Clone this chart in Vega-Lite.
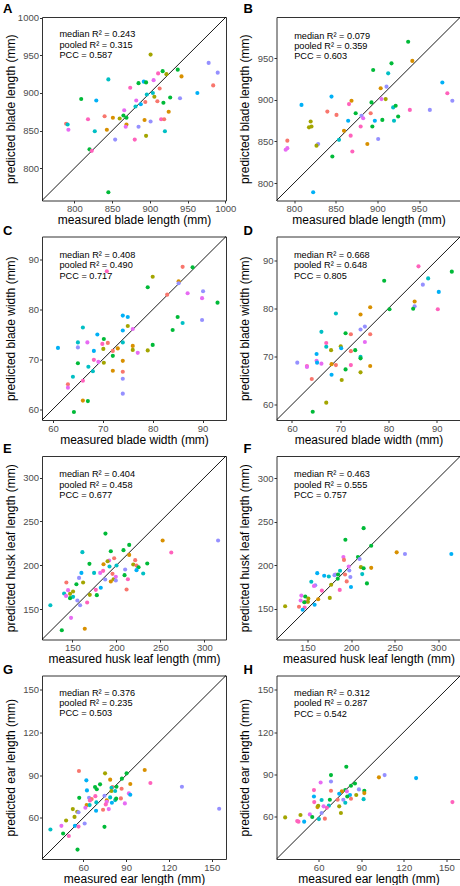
{
"$schema": "https://vega.github.io/schema/vega-lite/v6.json",
"padding": {"left": 2, "top": 2, "right": 0, "bottom": 0},
"bounds": "flush",
"columns": 2,
"spacing": {"row": 35.5, "column": 50.5},
"config": {
"font": "Liberation Sans",
"view": {"stroke": "#333333", "strokeWidth": 1},
"axis": {"grid": false, "domain": false, "tickSize": 2.5, "tickColor": "#333333", "labelFontSize": 9.5, "labelColor": "#4D4D4D", "titleFontSize": 12, "titleFontWeight": "normal", "titleColor": "#000000", "labelOverlap": false, "labelFlush": false},
"axisX": {"labelPadding": 0.5, "titlePadding": 1.6},
"axisY": {"labelPadding": 1, "titlePadding": 3, "minExtent": 22, "maxExtent": 22},
"title": {"anchor": "start", "frame": "group", "fontSize": 13, "fontWeight": "bold", "baseline": "alphabetic", "color": "#000000"}
},
"datasets": {
"notes": [
{"panel": "A", "label": "median R² = 0.243\npooled R² = 0.315\nPCC = 0.587"},
{"panel": "B", "label": "median R² = 0.079\npooled R² = 0.359\nPCC = 0.603"},
{"panel": "C", "label": "median R² = 0.408\npooled R² = 0.490\nPCC = 0.717"},
{"panel": "D", "label": "median R² = 0.668\npooled R² = 0.648\nPCC = 0.805"},
{"panel": "E", "label": "median R² = 0.404\npooled R² = 0.458\nPCC = 0.677"},
{"panel": "F", "label": "median R² = 0.463\npooled R² = 0.555\nPCC = 0.757"},
{"panel": "G", "label": "median R² = 0.376\npooled R² = 0.235\nPCC = 0.503"},
{"panel": "H", "label": "median R² = 0.312\npooled R² = 0.287\nPCC = 0.542"}
],
"points": [
{"panel":"A","measured":901,"predicted":951,"group":"y"},
{"panel":"A","measured":978,"predicted":940,"group":"v"},
{"panel":"A","measured":990,"predicted":927,"group":"v"},
{"panel":"A","measured":937,"predicted":931,"group":"g"},
{"panel":"A","measured":917,"predicted":929,"group":"g"},
{"panel":"A","measured":922,"predicted":925,"group":"y"},
{"panel":"A","measured":911,"predicted":926,"group":"p"},
{"panel":"A","measured":942,"predicted":922,"group":"o"},
{"panel":"A","measured":845,"predicted":918,"group":"c"},
{"panel":"A","measured":905,"predicted":917,"group":"m"},
{"panel":"A","measured":885,"predicted":913,"group":"g"},
{"panel":"A","measured":892,"predicted":915,"group":"b"},
{"panel":"A","measured":895,"predicted":914,"group":"g"},
{"panel":"A","measured":984,"predicted":910,"group":"r"},
{"panel":"A","measured":874,"predicted":907,"group":"p"},
{"panel":"A","measured":963,"predicted":900,"group":"b"},
{"panel":"A","measured":829,"predicted":890,"group":"b"},
{"panel":"A","measured":809,"predicted":892,"group":"g"},
{"panel":"A","measured":913,"predicted":906,"group":"r"},
{"panel":"A","measured":896,"predicted":898,"group":"c"},
{"panel":"A","measured":904,"predicted":900,"group":"c"},
{"panel":"A","measured":906,"predicted":895,"group":"y"},
{"panel":"A","measured":927,"predicted":894,"group":"g"},
{"panel":"A","measured":940,"predicted":893,"group":"v"},
{"panel":"A","measured":910,"predicted":889,"group":"r"},
{"panel":"A","measured":894,"predicted":888,"group":"r"},
{"panel":"A","measured":882,"predicted":890,"group":"m"},
{"panel":"A","measured":918,"predicted":887,"group":"g"},
{"panel":"A","measured":888,"predicted":885,"group":"b"},
{"panel":"A","measured":881,"predicted":882,"group":"c"},
{"panel":"A","measured":866,"predicted":877,"group":"m"},
{"panel":"A","measured":840,"predicted":869,"group":"r"},
{"panel":"A","measured":851,"predicted":867,"group":"o"},
{"panel":"A","measured":925,"predicted":875,"group":"o"},
{"panel":"A","measured":865,"predicted":870,"group":"g"},
{"panel":"A","measured":860,"predicted":866,"group":"y"},
{"panel":"A","measured":869,"predicted":867,"group":"g"},
{"panel":"A","measured":818,"predicted":865,"group":"p"},
{"panel":"A","measured":789,"predicted":859,"group":"r"},
{"panel":"A","measured":869,"predicted":858,"group":"o"},
{"panel":"A","measured":868,"predicted":855,"group":"m"},
{"panel":"A","measured":893,"predicted":864,"group":"o"},
{"panel":"A","measured":915,"predicted":865,"group":"p"},
{"panel":"A","measured":919,"predicted":865,"group":"r"},
{"panel":"A","measured":901,"predicted":862,"group":"v"},
{"panel":"A","measured":885,"predicted":855,"group":"v"},
{"panel":"A","measured":791,"predicted":858,"group":"c"},
{"panel":"A","measured":792,"predicted":851,"group":"m"},
{"panel":"A","measured":843,"predicted":851,"group":"o"},
{"panel":"A","measured":827,"predicted":849,"group":"c"},
{"panel":"A","measured":895,"predicted":843,"group":"y"},
{"panel":"A","measured":920,"predicted":849,"group":"c"},
{"panel":"A","measured":854,"predicted":838,"group":"v"},
{"panel":"A","measured":880,"predicted":838,"group":"p"},
{"panel":"A","measured":820,"predicted":825,"group":"g"},
{"panel":"A","measured":823,"predicted":823,"group":"p"},
{"panel":"A","measured":845,"predicted":768,"group":"g"},
{"panel":"B","measured":937,"predicted":970,"group":"g"},
{"panel":"B","measured":942,"predicted":947,"group":"o"},
{"panel":"B","measured":917,"predicted":944,"group":"g"},
{"panel":"B","measured":895,"predicted":936,"group":"g"},
{"panel":"B","measured":913,"predicted":932,"group":"c"},
{"panel":"B","measured":978,"predicted":921,"group":"b"},
{"panel":"B","measured":984,"predicted":908,"group":"p"},
{"panel":"B","measured":990,"predicted":899,"group":"v"},
{"panel":"B","measured":911,"predicted":916,"group":"v"},
{"panel":"B","measured":904,"predicted":914,"group":"o"},
{"panel":"B","measured":845,"predicted":904,"group":"b"},
{"panel":"B","measured":809,"predicted":894,"group":"b"},
{"panel":"B","measured":869,"predicted":899,"group":"o"},
{"panel":"B","measured":905,"predicted":901,"group":"m"},
{"panel":"B","measured":910,"predicted":901,"group":"y"},
{"panel":"B","measured":893,"predicted":897,"group":"g"},
{"panel":"B","measured":919,"predicted":891,"group":"c"},
{"panel":"B","measured":922,"predicted":893,"group":"g"},
{"panel":"B","measured":840,"predicted":886,"group":"r"},
{"panel":"B","measured":851,"predicted":882,"group":"r"},
{"panel":"B","measured":866,"predicted":895,"group":"p"},
{"panel":"B","measured":874,"predicted":884,"group":"g"},
{"panel":"B","measured":892,"predicted":884,"group":"r"},
{"panel":"B","measured":939,"predicted":888,"group":"p"},
{"panel":"B","measured":963,"predicted":888,"group":"v"},
{"panel":"B","measured":925,"predicted":880,"group":"g"},
{"panel":"B","measured":920,"predicted":875,"group":"c"},
{"panel":"B","measured":897,"predicted":875,"group":"b"},
{"panel":"B","measured":865,"predicted":875,"group":"b"},
{"panel":"B","measured":881,"predicted":881,"group":"v"},
{"panel":"B","measured":883,"predicted":878,"group":"m"},
{"panel":"B","measured":906,"predicted":876,"group":"g"},
{"panel":"B","measured":820,"predicted":874,"group":"y"},
{"panel":"B","measured":821,"predicted":868,"group":"y"},
{"panel":"B","measured":818,"predicted":867,"group":"y"},
{"panel":"B","measured":860,"predicted":863,"group":"o"},
{"panel":"B","measured":880,"predicted":868,"group":"p"},
{"panel":"B","measured":894,"predicted":868,"group":"g"},
{"panel":"B","measured":868,"predicted":857,"group":"p"},
{"panel":"B","measured":854,"predicted":852,"group":"c"},
{"panel":"B","measured":792,"predicted":851,"group":"r"},
{"panel":"B","measured":792,"predicted":842,"group":"m"},
{"panel":"B","measured":790,"predicted":840,"group":"m"},
{"panel":"B","measured":829,"predicted":847,"group":"v"},
{"panel":"B","measured":827,"predicted":845,"group":"y"},
{"panel":"B","measured":888,"predicted":847,"group":"o"},
{"panel":"B","measured":901,"predicted":853,"group":"v"},
{"panel":"B","measured":870,"predicted":838,"group":"p"},
{"panel":"B","measured":846,"predicted":832,"group":"g"},
{"panel":"B","measured":823,"predicted":789,"group":"b"},
{"panel":"C","measured":86.0,"predicted":88.6,"group":"r"},
{"panel":"C","measured":88.0,"predicted":88.5,"group":"g"},
{"panel":"C","measured":70.8,"predicted":87.7,"group":"p"},
{"panel":"C","measured":80.0,"predicted":86.6,"group":"y"},
{"panel":"C","measured":79.0,"predicted":84.5,"group":"g"},
{"panel":"C","measured":85.2,"predicted":85.7,"group":"o"},
{"panel":"C","measured":85.2,"predicted":85.3,"group":"v"},
{"panel":"C","measured":82.9,"predicted":83.0,"group":"r"},
{"panel":"C","measured":87.0,"predicted":83.3,"group":"m"},
{"panel":"C","measured":90.1,"predicted":83.7,"group":"v"},
{"panel":"C","measured":89.9,"predicted":82.3,"group":"m"},
{"panel":"C","measured":93.0,"predicted":81.4,"group":"g"},
{"panel":"C","measured":89.9,"predicted":77.9,"group":"v"},
{"panel":"C","measured":85.0,"predicted":78.5,"group":"g"},
{"panel":"C","measured":86.0,"predicted":77.3,"group":"c"},
{"panel":"C","measured":84.0,"predicted":75.9,"group":"g"},
{"panel":"C","measured":74.0,"predicted":78.8,"group":"b"},
{"panel":"C","measured":75.0,"predicted":78.5,"group":"b"},
{"panel":"C","measured":74.0,"predicted":75.8,"group":"b"},
{"panel":"C","measured":75.0,"predicted":76.7,"group":"y"},
{"panel":"C","measured":76.0,"predicted":76.1,"group":"m"},
{"panel":"C","measured":66.0,"predicted":76.4,"group":"c"},
{"panel":"C","measured":68.9,"predicted":75.0,"group":"b"},
{"panel":"C","measured":70.2,"predicted":74.1,"group":"g"},
{"panel":"C","measured":65.0,"predicted":73.4,"group":"c"},
{"panel":"C","measured":66.9,"predicted":73.4,"group":"m"},
{"panel":"C","measured":69.9,"predicted":73.1,"group":"p"},
{"panel":"C","measured":71.0,"predicted":73.3,"group":"r"},
{"panel":"C","measured":74.0,"predicted":73.4,"group":"c"},
{"panel":"C","measured":61.0,"predicted":72.3,"group":"b"},
{"panel":"C","measured":65.0,"predicted":72.4,"group":"v"},
{"panel":"C","measured":70.1,"predicted":72.1,"group":"y"},
{"panel":"C","measured":73.0,"predicted":72.2,"group":"o"},
{"panel":"C","measured":76.0,"predicted":72.7,"group":"o"},
{"panel":"C","measured":76.0,"predicted":71.9,"group":"y"},
{"panel":"C","measured":79.0,"predicted":71.8,"group":"y"},
{"panel":"C","measured":80.0,"predicted":72.9,"group":"g"},
{"panel":"C","measured":77.0,"predicted":71.3,"group":"m"},
{"panel":"C","measured":72.0,"predicted":71.7,"group":"r"},
{"panel":"C","measured":72.0,"predicted":70.7,"group":"g"},
{"panel":"C","measured":68.2,"predicted":71.7,"group":"b"},
{"panel":"C","measured":68.2,"predicted":69.9,"group":"p"},
{"panel":"C","measured":69.1,"predicted":69.5,"group":"m"},
{"panel":"C","measured":70.2,"predicted":69.3,"group":"y"},
{"panel":"C","measured":74.0,"predicted":69.7,"group":"o"},
{"panel":"C","measured":65.0,"predicted":69.2,"group":"g"},
{"panel":"C","measured":67.1,"predicted":68.5,"group":"c"},
{"panel":"C","measured":68.0,"predicted":67.6,"group":"c"},
{"panel":"C","measured":72.0,"predicted":67.7,"group":"o"},
{"panel":"C","measured":74.0,"predicted":67.5,"group":"r"},
{"panel":"C","measured":64.0,"predicted":66.5,"group":"c"},
{"panel":"C","measured":74.0,"predicted":66.1,"group":"v"},
{"panel":"C","measured":66.0,"predicted":65.7,"group":"p"},
{"panel":"C","measured":63.0,"predicted":65.0,"group":"r"},
{"panel":"C","measured":63.0,"predicted":64.3,"group":"m"},
{"panel":"C","measured":74.0,"predicted":63.1,"group":"v"},
{"panel":"C","measured":66.0,"predicted":61.7,"group":"o"},
{"panel":"C","measured":67.0,"predicted":61.6,"group":"g"},
{"panel":"C","measured":64.2,"predicted":59.4,"group":"g"},
{"panel":"D","measured":86.2,"predicted":88.7,"group":"p"},
{"panel":"D","measured":93.1,"predicted":87.6,"group":"g"},
{"panel":"D","measured":88.2,"predicted":86.2,"group":"c"},
{"panel":"D","measured":87.1,"predicted":84.9,"group":"v"},
{"panel":"D","measured":79.1,"predicted":85.7,"group":"g"},
{"panel":"D","measured":90.4,"predicted":83.4,"group":"b"},
{"panel":"D","measured":85.4,"predicted":81.4,"group":"o"},
{"panel":"D","measured":85.4,"predicted":80.4,"group":"v"},
{"panel":"D","measured":85.1,"predicted":79.9,"group":"g"},
{"panel":"D","measured":80.2,"predicted":79.8,"group":"g"},
{"panel":"D","measured":90.2,"predicted":79.8,"group":"p"},
{"panel":"D","measured":76.2,"predicted":80.2,"group":"o"},
{"panel":"D","measured":69.1,"predicted":78.9,"group":"c"},
{"panel":"D","measured":74.2,"predicted":78.7,"group":"o"},
{"panel":"D","measured":66.1,"predicted":75.1,"group":"c"},
{"panel":"D","measured":74.2,"predicted":75.6,"group":"v"},
{"panel":"D","measured":75.1,"predicted":76.2,"group":"v"},
{"panel":"D","measured":71.1,"predicted":74.8,"group":"g"},
{"panel":"D","measured":72.2,"predicted":74.6,"group":"r"},
{"panel":"D","measured":76.2,"predicted":74.6,"group":"r"},
{"panel":"D","measured":67.1,"predicted":72.8,"group":"p"},
{"panel":"D","measured":67.1,"predicted":72.0,"group":"c"},
{"panel":"D","measured":70.1,"predicted":72.1,"group":"y"},
{"panel":"D","measured":70.2,"predicted":71.7,"group":"b"},
{"panel":"D","measured":75.1,"predicted":73.0,"group":"m"},
{"panel":"D","measured":73.1,"predicted":71.3,"group":"g"},
{"panel":"D","measured":72.2,"predicted":71.1,"group":"r"},
{"panel":"D","measured":68.1,"predicted":71.3,"group":"y"},
{"panel":"D","measured":65.1,"predicted":70.5,"group":"b"},
{"panel":"D","measured":74.2,"predicted":69.9,"group":"c"},
{"panel":"D","measured":74.2,"predicted":69.6,"group":"g"},
{"panel":"D","measured":61.1,"predicted":68.7,"group":"v"},
{"panel":"D","measured":65.1,"predicted":69.1,"group":"m"},
{"panel":"D","measured":65.2,"predicted":68.7,"group":"b"},
{"panel":"D","measured":63.1,"predicted":68.0,"group":"p"},
{"panel":"D","measured":63.1,"predicted":67.8,"group":"m"},
{"panel":"D","measured":66.1,"predicted":68.5,"group":"m"},
{"panel":"D","measured":68.2,"predicted":68.4,"group":"o"},
{"panel":"D","measured":69.1,"predicted":68.2,"group":"r"},
{"panel":"D","measured":72.2,"predicted":68.2,"group":"p"},
{"panel":"D","measured":76.2,"predicted":68.0,"group":"o"},
{"panel":"D","measured":68.2,"predicted":66.2,"group":"b"},
{"panel":"D","measured":71.1,"predicted":67.3,"group":"g"},
{"panel":"D","measured":74.2,"predicted":66.7,"group":"y"},
{"panel":"D","measured":64.1,"predicted":65.3,"group":"r"},
{"panel":"D","measured":70.3,"predicted":65.1,"group":"y"},
{"panel":"D","measured":67.1,"predicted":60.4,"group":"y"},
{"panel":"D","measured":64.3,"predicted":58.5,"group":"g"},
{"panel":"E","measured":187.6,"predicted":236.2,"group":"g"},
{"panel":"E","measured":252.6,"predicted":228.3,"group":"o"},
{"panel":"E","measured":315.6,"predicted":228.3,"group":"v"},
{"panel":"E","measured":214.6,"predicted":223.3,"group":"g"},
{"panel":"E","measured":161.4,"predicted":215.0,"group":"c"},
{"panel":"E","measured":262.4,"predicted":214.6,"group":"p"},
{"panel":"E","measured":208.1,"predicted":217.3,"group":"g"},
{"panel":"E","measured":193.7,"predicted":216.1,"group":"g"},
{"panel":"E","measured":214.6,"predicted":211.9,"group":"o"},
{"panel":"E","measured":197.5,"predicted":208.1,"group":"r"},
{"panel":"E","measured":191.8,"predicted":205.5,"group":"m"},
{"panel":"E","measured":190.0,"predicted":204.7,"group":"y"},
{"panel":"E","measured":221.4,"predicted":205.9,"group":"r"},
{"panel":"E","measured":169.4,"predicted":201.7,"group":"g"},
{"panel":"E","measured":235.1,"predicted":202.1,"group":"g"},
{"panel":"E","measured":185.4,"predicted":201.3,"group":"o"},
{"panel":"E","measured":219.2,"predicted":200.9,"group":"y"},
{"panel":"E","measured":200.2,"predicted":199.8,"group":"c"},
{"panel":"E","measured":222.9,"predicted":199.8,"group":"r"},
{"panel":"E","measured":225.2,"predicted":197.9,"group":"g"},
{"panel":"E","measured":192.2,"predicted":198.7,"group":"c"},
{"panel":"E","measured":160.3,"predicted":191.4,"group":"b"},
{"panel":"E","measured":174.7,"predicted":191.4,"group":"c"},
{"panel":"E","measured":210.0,"predicted":195.2,"group":"v"},
{"panel":"E","measured":181.6,"predicted":191.4,"group":"m"},
{"panel":"E","measured":222.9,"predicted":194.5,"group":"b"},
{"panel":"E","measured":230.5,"predicted":190.7,"group":"c"},
{"panel":"E","measured":157.6,"predicted":185.7,"group":"v"},
{"panel":"E","measured":209.3,"predicted":188.8,"group":"g"},
{"panel":"E","measured":195.6,"predicted":190.3,"group":"r"},
{"panel":"E","measured":185.0,"predicted":193.7,"group":"p"},
{"panel":"E","measured":187.3,"predicted":183.8,"group":"v"},
{"panel":"E","measured":196.8,"predicted":184.2,"group":"y"},
{"panel":"E","measured":199.4,"predicted":186.9,"group":"m"},
{"panel":"E","measured":199.4,"predicted":182.7,"group":"v"},
{"panel":"E","measured":193.7,"predicted":181.6,"group":"o"},
{"panel":"E","measured":213.1,"predicted":184.2,"group":"p"},
{"panel":"E","measured":162.2,"predicted":180.4,"group":"y"},
{"panel":"E","measured":143.2,"predicted":180.4,"group":"r"},
{"panel":"E","measured":154.6,"predicted":178.5,"group":"g"},
{"panel":"E","measured":182.3,"predicted":174.4,"group":"b"},
{"panel":"E","measured":176.6,"predicted":172.1,"group":"p"},
{"panel":"E","measured":211.6,"predicted":172.5,"group":"r"},
{"panel":"E","measured":145.1,"predicted":171.7,"group":"m"},
{"panel":"E","measured":150.8,"predicted":170.2,"group":"y"},
{"panel":"E","measured":169.8,"predicted":166.4,"group":"y"},
{"panel":"E","measured":177.8,"predicted":166.0,"group":"g"},
{"panel":"E","measured":140.6,"predicted":167.9,"group":"c"},
{"panel":"E","measured":147.4,"predicted":167.5,"group":"y"},
{"panel":"E","measured":142.8,"predicted":165.2,"group":"m"},
{"panel":"E","measured":150.8,"predicted":164.1,"group":"c"},
{"panel":"E","measured":147.4,"predicted":162.6,"group":"g"},
{"panel":"E","measured":155.7,"predicted":159.9,"group":"v"},
{"panel":"E","measured":166.8,"predicted":157.6,"group":"p"},
{"panel":"E","measured":158.8,"predicted":154.6,"group":"v"},
{"panel":"E","measured":125.0,"predicted":154.6,"group":"c"},
{"panel":"E","measured":148.5,"predicted":140.2,"group":"m"},
{"panel":"E","measured":164.1,"predicted":127.7,"group":"o"},
{"panel":"E","measured":138.0,"predicted":126.1,"group":"g"},
{"panel":"F","measured":214.4,"predicted":242.5,"group":"g"},
{"panel":"F","measured":193.5,"predicted":229.2,"group":"g"},
{"panel":"F","measured":223.1,"predicted":222.3,"group":"g"},
{"panel":"F","measured":252.3,"predicted":214.7,"group":"o"},
{"panel":"F","measured":261.8,"predicted":212.8,"group":"v"},
{"panel":"F","measured":315.0,"predicted":212.8,"group":"b"},
{"panel":"F","measured":207.9,"predicted":209.4,"group":"g"},
{"panel":"F","measured":191.2,"predicted":209.4,"group":"m"},
{"panel":"F","measured":191.9,"predicted":206.0,"group":"r"},
{"panel":"F","measured":209.8,"predicted":207.1,"group":"v"},
{"panel":"F","measured":197.3,"predicted":198.4,"group":"m"},
{"panel":"F","measured":198.0,"predicted":193.9,"group":"v"},
{"panel":"F","measured":211.3,"predicted":197.7,"group":"y"},
{"panel":"F","measured":214.4,"predicted":196.5,"group":"g"},
{"panel":"F","measured":223.1,"predicted":196.9,"group":"o"},
{"panel":"F","measured":187.4,"predicted":193.5,"group":"c"},
{"panel":"F","measured":161.2,"predicted":190.8,"group":"b"},
{"panel":"F","measured":169.2,"predicted":187.8,"group":"b"},
{"panel":"F","measured":174.5,"predicted":187.0,"group":"c"},
{"panel":"F","measured":182.1,"predicted":189.3,"group":"m"},
{"panel":"F","measured":181.0,"predicted":188.5,"group":"v"},
{"panel":"F","measured":185.1,"predicted":189.3,"group":"g"},
{"panel":"F","measured":193.1,"predicted":189.3,"group":"r"},
{"panel":"F","measured":212.8,"predicted":189.7,"group":"c"},
{"panel":"F","measured":199.2,"predicted":186.3,"group":"v"},
{"panel":"F","measured":184.7,"predicted":184.4,"group":"g"},
{"panel":"F","measured":154.4,"predicted":180.9,"group":"c"},
{"panel":"F","measured":195.0,"predicted":181.3,"group":"r"},
{"panel":"F","measured":177.2,"predicted":177.5,"group":"y"},
{"panel":"F","measured":199.9,"predicted":174.9,"group":"b"},
{"panel":"F","measured":218.2,"predicted":179.0,"group":"g"},
{"panel":"F","measured":158.9,"predicted":176.8,"group":"v"},
{"panel":"F","measured":157.4,"predicted":176.0,"group":"m"},
{"panel":"F","measured":166.5,"predicted":170.7,"group":"p"},
{"panel":"F","measured":187.0,"predicted":171.5,"group":"p"},
{"panel":"F","measured":143.0,"predicted":165.0,"group":"m"},
{"panel":"F","measured":147.5,"predicted":163.9,"group":"g"},
{"panel":"F","measured":175.6,"predicted":162.3,"group":"y"},
{"panel":"F","measured":151.0,"predicted":161.6,"group":"y"},
{"panel":"F","measured":162.3,"predicted":160.8,"group":"o"},
{"panel":"F","measured":142.2,"predicted":159.3,"group":"m"},
{"panel":"F","measured":147.9,"predicted":157.8,"group":"p"},
{"panel":"F","measured":150.6,"predicted":157.8,"group":"y"},
{"panel":"F","measured":146.4,"predicted":157.4,"group":"g"},
{"panel":"F","measured":158.2,"predicted":154.4,"group":"b"},
{"panel":"F","measured":140.3,"predicted":152.1,"group":"r"},
{"panel":"F","measured":146.8,"predicted":151.3,"group":"p"},
{"panel":"F","measured":124.4,"predicted":152.8,"group":"y"},
{"panel":"F","measured":144.5,"predicted":148.7,"group":"b"},
{"panel":"G","measured":103.0,"predicted":93.6,"group":"o"},
{"panel":"G","measured":75.2,"predicted":91.2,"group":"y"},
{"panel":"G","measured":90.3,"predicted":91.2,"group":"g"},
{"panel":"G","measured":56.9,"predicted":92.9,"group":"r"},
{"panel":"G","measured":107.0,"predicted":84.4,"group":"p"},
{"panel":"G","measured":78.8,"predicted":86.8,"group":"o"},
{"panel":"G","measured":87.0,"predicted":87.5,"group":"g"},
{"panel":"G","measured":62.1,"predicted":86.3,"group":"b"},
{"panel":"G","measured":92.9,"predicted":83.7,"group":"o"},
{"panel":"G","measured":71.7,"predicted":83.5,"group":"g"},
{"panel":"G","measured":129.1,"predicted":81.8,"group":"v"},
{"panel":"G","measured":80.4,"predicted":81.6,"group":"r"},
{"panel":"G","measured":86.8,"predicted":80.4,"group":"r"},
{"panel":"G","measured":68.2,"predicted":81.6,"group":"g"},
{"panel":"G","measured":79.7,"predicted":81.1,"group":"c"},
{"panel":"G","measured":83.2,"predicted":81.8,"group":"g"},
{"panel":"G","measured":79.7,"predicted":78.8,"group":"y"},
{"panel":"G","measured":69.4,"predicted":80.0,"group":"g"},
{"panel":"G","measured":82.3,"predicted":78.8,"group":"c"},
{"panel":"G","measured":62.5,"predicted":79.2,"group":"b"},
{"panel":"G","measured":91.9,"predicted":77.1,"group":"m"},
{"panel":"G","measured":92.9,"predicted":76.2,"group":"b"},
{"panel":"G","measured":68.4,"predicted":75.2,"group":"p"},
{"panel":"G","measured":78.8,"predicted":74.3,"group":"c"},
{"panel":"G","measured":86.3,"predicted":73.6,"group":"r"},
{"panel":"G","measured":57.1,"predicted":74.0,"group":"g"},
{"panel":"G","measured":64.0,"predicted":74.0,"group":"v"},
{"panel":"G","measured":65.8,"predicted":73.1,"group":"r"},
{"panel":"G","measured":64.6,"predicted":72.2,"group":"p"},
{"panel":"G","measured":82.3,"predicted":72.4,"group":"c"},
{"panel":"G","measured":83.0,"predicted":73.4,"group":"g"},
{"panel":"G","measured":76.4,"predicted":72.2,"group":"o"},
{"panel":"G","measured":76.4,"predicted":71.2,"group":"m"},
{"panel":"G","measured":80.0,"predicted":70.5,"group":"b"},
{"panel":"G","measured":89.1,"predicted":70.1,"group":"m"},
{"panel":"G","measured":75.7,"predicted":69.4,"group":"p"},
{"panel":"G","measured":74.8,"predicted":75.5,"group":"v"},
{"panel":"G","measured":69.1,"predicted":70.8,"group":"c"},
{"panel":"G","measured":62.3,"predicted":68.9,"group":"o"},
{"panel":"G","measured":68.9,"predicted":64.9,"group":"b"},
{"panel":"G","measured":73.8,"predicted":65.6,"group":"r"},
{"panel":"G","measured":77.8,"predicted":66.1,"group":"m"},
{"panel":"G","measured":64.4,"predicted":68.9,"group":"c"},
{"panel":"G","measured":61.4,"predicted":67.0,"group":"m"},
{"panel":"G","measured":52.6,"predicted":66.1,"group":"y"},
{"panel":"G","measured":55.7,"predicted":64.2,"group":"y"},
{"panel":"G","measured":56.6,"predicted":63.9,"group":"v"},
{"panel":"G","measured":53.8,"predicted":60.6,"group":"y"},
{"panel":"G","measured":60.9,"predicted":56.0,"group":"v"},
{"panel":"G","measured":47.9,"predicted":58.1,"group":"y"},
{"panel":"G","measured":44.6,"predicted":54.3,"group":"m"},
{"panel":"G","measured":54.1,"predicted":54.3,"group":"b"},
{"panel":"G","measured":56.6,"predicted":53.8,"group":"p"},
{"panel":"G","measured":74.8,"predicted":53.6,"group":"g"},
{"panel":"G","measured":36.9,"predicted":51.7,"group":"c"},
{"panel":"G","measured":45.8,"predicted":48.9,"group":"g"},
{"panel":"G","measured":49.8,"predicted":47.2,"group":"p"},
{"panel":"G","measured":55.9,"predicted":37.6,"group":"g"},
{"panel":"G","measured":155.2,"predicted":66.3,"group":"v"},
{"panel":"H","measured":79.5,"predicted":95.5,"group":"g"},
{"panel":"H","measured":106.5,"predicted":89.6,"group":"v"},
{"panel":"H","measured":102.5,"predicted":88.0,"group":"o"},
{"panel":"H","measured":128.7,"predicted":87.5,"group":"b"},
{"panel":"H","measured":68.7,"predicted":89.6,"group":"g"},
{"panel":"H","measured":61.4,"predicted":84.4,"group":"m"},
{"panel":"H","measured":68.7,"predicted":85.1,"group":"v"},
{"panel":"H","measured":85.6,"predicted":83.7,"group":"g"},
{"panel":"H","measured":82.8,"predicted":82.1,"group":"g"},
{"panel":"H","measured":56.7,"predicted":79.0,"group":"p"},
{"panel":"H","measured":68.7,"predicted":78.5,"group":"r"},
{"panel":"H","measured":78.8,"predicted":79.0,"group":"g"},
{"panel":"H","measured":76.4,"predicted":78.1,"group":"o"},
{"panel":"H","measured":88.4,"predicted":79.5,"group":"v"},
{"panel":"H","measured":79.9,"predicted":78.1,"group":"m"},
{"panel":"H","measured":92.2,"predicted":78.5,"group":"g"},
{"panel":"H","measured":92.2,"predicted":76.9,"group":"o"},
{"panel":"H","measured":86.5,"predicted":75.5,"group":"y"},
{"panel":"H","measured":74.5,"predicted":76.4,"group":"b"},
{"panel":"H","measured":82.1,"predicted":75.5,"group":"b"},
{"panel":"H","measured":80.2,"predicted":74.5,"group":"g"},
{"panel":"H","measured":82.8,"predicted":72.9,"group":"r"},
{"panel":"H","measured":77.4,"predicted":72.2,"group":"v"},
{"panel":"H","measured":78.8,"predicted":70.1,"group":"c"},
{"panel":"H","measured":73.4,"predicted":72.2,"group":"r"},
{"panel":"H","measured":67.9,"predicted":72.2,"group":"g"},
{"panel":"H","measured":56.7,"predicted":74.5,"group":"b"},
{"panel":"H","measured":62.1,"predicted":72.0,"group":"c"},
{"panel":"H","measured":56.9,"predicted":70.5,"group":"p"},
{"panel":"H","measured":91.7,"predicted":72.6,"group":"c"},
{"panel":"H","measured":74.5,"predicted":67.5,"group":"y"},
{"panel":"H","measured":67.2,"predicted":68.0,"group":"c"},
{"panel":"H","measured":63.5,"predicted":67.5,"group":"m"},
{"panel":"H","measured":65.8,"predicted":66.5,"group":"p"},
{"panel":"H","measured":59.2,"predicted":67.0,"group":"o"},
{"panel":"H","measured":59.7,"predicted":67.9,"group":"y"},
{"panel":"H","measured":62.1,"predicted":62.8,"group":"v"},
{"panel":"H","measured":53.8,"predicted":61.8,"group":"m"},
{"panel":"H","measured":55.5,"predicted":60.0,"group":"g"},
{"panel":"H","measured":75.7,"predicted":62.8,"group":"y"},
{"panel":"H","measured":64.4,"predicted":58.8,"group":"r"},
{"panel":"H","measured":60.2,"predicted":58.5,"group":"c"},
{"panel":"H","measured":47.2,"predicted":61.4,"group":"y"},
{"panel":"H","measured":36.4,"predicted":59.7,"group":"y"},
{"panel":"H","measured":44.9,"predicted":57.1,"group":"p"},
{"panel":"H","measured":45.8,"predicted":56.7,"group":"p"},
{"panel":"H","measured":49.8,"predicted":56.7,"group":"b"},
{"panel":"H","measured":154.3,"predicted":70.5,"group":"p"}
]
},
"concat": [
{"width": 184, "height": 183.5, "title": {"text": "A", "dx": -39, "offset": -3.7},
"layer": [
{"data": {"name": "notes"}, "transform": [{"filter": "datum.panel == 'A'"}], "mark": {"type": "rule", "color": "#000000", "strokeWidth": 0.9}, "encoding": {"x": {"datum": 757}, "y": {"datum": 757}, "x2": {"datum": 1001}, "y2": {"datum": 1001}}},
{"data": {"name": "notes"}, "transform": [{"filter": "datum.panel == 'A'"}], "mark": {"type": "text", "align": "left", "baseline": "top", "lineBreak": "\n", "fontSize": 9.2, "lineHeight": 10.3, "color": "#000000"}, "encoding": {"x": {"datum": 780.1}, "y": {"datum": 983.1}, "text": {"field": "label"}}},
{"data": {"name": "points"}, "transform": [{"filter": "datum.panel == 'A'"}], "mark": {"type": "circle", "size": 17, "opacity": 1},
"encoding": {
"x": {"field": "measured", "type": "quantitative", "scale": {"domain": [757, 1001], "nice": false, "zero": false}, "axis": {"title": "measured blade length (mm)", "values": [800, 850, 900, 950, 1000], "format": "d"}},
"y": {"field": "predicted", "type": "quantitative", "scale": {"domain": [757, 1001], "nice": false, "zero": false}, "axis": {"title": "predicted blade length (mm)", "values": [800, 850, 900, 950, 1000], "format": "d"}},
"color": {"field": "group", "type": "nominal", "scale": {"domain": ["r","o","y","g","c","b","v","m","p"], "range": ["#F8766D","#D89000","#A3A500","#00BA38","#00BFC4","#00B0F6","#9590FF","#E76BF3","#FF62BC"]}, "legend": null}}}
]},
{"width": 184, "height": 183.5, "title": {"text": "B", "dx": -33, "offset": 0.8},
"layer": [
{"data": {"name": "notes"}, "transform": [{"filter": "datum.panel == 'B'"}], "mark": {"type": "rule", "color": "#000000", "strokeWidth": 0.9}, "encoding": {"x": {"datum": 779}, "y": {"datum": 779}, "x2": {"datum": 999.8}, "y2": {"datum": 999.8}}},
{"data": {"name": "notes"}, "transform": [{"filter": "datum.panel == 'B'"}], "mark": {"type": "text", "align": "left", "baseline": "top", "lineBreak": "\n", "fontSize": 9.2, "lineHeight": 10.3, "color": "#000000"}, "encoding": {"x": {"datum": 800.2}, "y": {"datum": 982.1}, "text": {"field": "label"}}},
{"data": {"name": "points"}, "transform": [{"filter": "datum.panel == 'B'"}], "mark": {"type": "circle", "size": 17, "opacity": 1},
"encoding": {
"x": {"field": "measured", "type": "quantitative", "scale": {"domain": [779, 999.8], "nice": false, "zero": false}, "axis": {"title": "measured blade length (mm)", "values": [800, 850, 900, 950], "format": "d"}},
"y": {"field": "predicted", "type": "quantitative", "scale": {"domain": [779, 999.8], "nice": false, "zero": false}, "axis": {"title": "predicted blade length (mm)", "values": [800, 850, 900, 950], "format": "d"}},
"color": {"field": "group", "type": "nominal", "scale": {"domain": ["r","o","y","g","c","b","v","m","p"], "range": ["#F8766D","#D89000","#A3A500","#00BA38","#00BFC4","#00B0F6","#9590FF","#E76BF3","#FF62BC"]}, "legend": null}}}
]},
{"width": 184, "height": 183.5, "title": {"text": "C", "dx": -39, "offset": -1.9},
"layer": [
{"data": {"name": "notes"}, "transform": [{"filter": "datum.panel == 'C'"}], "mark": {"type": "rule", "color": "#000000", "strokeWidth": 0.9}, "encoding": {"x": {"datum": 57.8}, "y": {"datum": 57.8}, "x2": {"datum": 94.7}, "y2": {"datum": 94.7}}},
{"data": {"name": "notes"}, "transform": [{"filter": "datum.panel == 'C'"}], "mark": {"type": "text", "align": "left", "baseline": "top", "lineBreak": "\n", "fontSize": 9.2, "lineHeight": 10.3, "color": "#000000"}, "encoding": {"x": {"datum": 61.3}, "y": {"datum": 91.76}, "text": {"field": "label"}}},
{"data": {"name": "points"}, "transform": [{"filter": "datum.panel == 'C'"}], "mark": {"type": "circle", "size": 17, "opacity": 1},
"encoding": {
"x": {"field": "measured", "type": "quantitative", "scale": {"domain": [57.8, 94.7], "nice": false, "zero": false}, "axis": {"title": "measured blade width (mm)", "values": [60, 70, 80, 90], "format": "d"}},
"y": {"field": "predicted", "type": "quantitative", "scale": {"domain": [57.8, 94.7], "nice": false, "zero": false}, "axis": {"title": "predicted blade width (mm)", "values": [60, 70, 80, 90], "format": "d"}},
"color": {"field": "group", "type": "nominal", "scale": {"domain": ["r","o","y","g","c","b","v","m","p"], "range": ["#F8766D","#D89000","#A3A500","#00BA38","#00BFC4","#00B0F6","#9590FF","#E76BF3","#FF62BC"]}, "legend": null}}}
]},
{"width": 184, "height": 183.5, "title": {"text": "D", "dx": -33, "offset": -1.9},
"layer": [
{"data": {"name": "notes"}, "transform": [{"filter": "datum.panel == 'D'"}], "mark": {"type": "rule", "color": "#000000", "strokeWidth": 0.9}, "encoding": {"x": {"datum": 56.8}, "y": {"datum": 56.8}, "x2": {"datum": 94.9}, "y2": {"datum": 94.9}}},
{"data": {"name": "notes"}, "transform": [{"filter": "datum.panel == 'D'"}], "mark": {"type": "text", "align": "left", "baseline": "top", "lineBreak": "\n", "fontSize": 9.2, "lineHeight": 10.3, "color": "#000000"}, "encoding": {"x": {"datum": 60.4}, "y": {"datum": 91.87}, "text": {"field": "label"}}},
{"data": {"name": "points"}, "transform": [{"filter": "datum.panel == 'D'"}], "mark": {"type": "circle", "size": 17, "opacity": 1},
"encoding": {
"x": {"field": "measured", "type": "quantitative", "scale": {"domain": [56.8, 94.9], "nice": false, "zero": false}, "axis": {"title": "measured blade width (mm)", "values": [60, 70, 80, 90], "format": "d"}},
"y": {"field": "predicted", "type": "quantitative", "scale": {"domain": [56.8, 94.9], "nice": false, "zero": false}, "axis": {"title": "predicted blade width (mm)", "values": [60, 70, 80, 90], "format": "d"}},
"color": {"field": "group", "type": "nominal", "scale": {"domain": ["r","o","y","g","c","b","v","m","p"], "range": ["#F8766D","#D89000","#A3A500","#00BA38","#00BFC4","#00B0F6","#9590FF","#E76BF3","#FF62BC"]}, "legend": null}}}
]},
{"width": 184, "height": 183.5, "title": {"text": "E", "dx": -39, "offset": -0.9},
"layer": [
{"data": {"name": "notes"}, "transform": [{"filter": "datum.panel == 'E'"}], "mark": {"type": "rule", "color": "#000000", "strokeWidth": 0.9}, "encoding": {"x": {"datum": 115.5}, "y": {"datum": 115.5}, "x2": {"datum": 324.6}, "y2": {"datum": 324.6}}},
{"data": {"name": "notes"}, "transform": [{"filter": "datum.panel == 'E'"}], "mark": {"type": "text", "align": "left", "baseline": "top", "lineBreak": "\n", "fontSize": 9.2, "lineHeight": 10.3, "color": "#000000"}, "encoding": {"x": {"datum": 135.1}, "y": {"datum": 308.3}, "text": {"field": "label"}}},
{"data": {"name": "points"}, "transform": [{"filter": "datum.panel == 'E'"}], "mark": {"type": "circle", "size": 17, "opacity": 1},
"encoding": {
"x": {"field": "measured", "type": "quantitative", "scale": {"domain": [115.5, 324.6], "nice": false, "zero": false}, "axis": {"title": "measured husk leaf length (mm)", "values": [150, 200, 250, 300], "format": "d"}},
"y": {"field": "predicted", "type": "quantitative", "scale": {"domain": [115.5, 324.6], "nice": false, "zero": false}, "axis": {"title": "predicted husk leaf length (mm)", "values": [150, 200, 250, 300], "format": "d"}},
"color": {"field": "group", "type": "nominal", "scale": {"domain": ["r","o","y","g","c","b","v","m","p"], "range": ["#F8766D","#D89000","#A3A500","#00BA38","#00BFC4","#00B0F6","#9590FF","#E76BF3","#FF62BC"]}, "legend": null}}}
]},
{"width": 184, "height": 183.5, "title": {"text": "F", "dx": -33, "offset": -0.9},
"layer": [
{"data": {"name": "notes"}, "transform": [{"filter": "datum.panel == 'F'"}], "mark": {"type": "rule", "color": "#000000", "strokeWidth": 0.9}, "encoding": {"x": {"datum": 114.5}, "y": {"datum": 114.5}, "x2": {"datum": 325.5}, "y2": {"datum": 325.5}}},
{"data": {"name": "notes"}, "transform": [{"filter": "datum.panel == 'F'"}], "mark": {"type": "text", "align": "left", "baseline": "top", "lineBreak": "\n", "fontSize": 9.2, "lineHeight": 10.3, "color": "#000000"}, "encoding": {"x": {"datum": 134.6}, "y": {"datum": 309.0}, "text": {"field": "label"}}},
{"data": {"name": "points"}, "transform": [{"filter": "datum.panel == 'F'"}], "mark": {"type": "circle", "size": 17, "opacity": 1},
"encoding": {
"x": {"field": "measured", "type": "quantitative", "scale": {"domain": [114.5, 325.5], "nice": false, "zero": false}, "axis": {"title": "measured husk leaf length (mm)", "values": [150, 200, 250, 300], "format": "d"}},
"y": {"field": "predicted", "type": "quantitative", "scale": {"domain": [114.5, 325.5], "nice": false, "zero": false}, "axis": {"title": "predicted husk leaf length (mm)", "values": [150, 200, 250, 300], "format": "d"}},
"color": {"field": "group", "type": "nominal", "scale": {"domain": ["r","o","y","g","c","b","v","m","p"], "range": ["#F8766D","#D89000","#A3A500","#00BA38","#00BFC4","#00B0F6","#9590FF","#E76BF3","#FF62BC"]}, "legend": null}}}
]},
{"width": 184, "height": 183.5, "title": {"text": "G", "dx": -39, "offset": -1.6},
"layer": [
{"data": {"name": "notes"}, "transform": [{"filter": "datum.panel == 'G'"}], "mark": {"type": "rule", "color": "#000000", "strokeWidth": 0.9}, "encoding": {"x": {"datum": 31}, "y": {"datum": 31}, "x2": {"datum": 160}, "y2": {"datum": 160}}},
{"data": {"name": "notes"}, "transform": [{"filter": "datum.panel == 'G'"}], "mark": {"type": "text", "align": "left", "baseline": "top", "lineBreak": "\n", "fontSize": 9.2, "lineHeight": 10.3, "color": "#000000"}, "encoding": {"x": {"datum": 43.1}, "y": {"datum": 150.6}, "text": {"field": "label"}}},
{"data": {"name": "points"}, "transform": [{"filter": "datum.panel == 'G'"}], "mark": {"type": "circle", "size": 17, "opacity": 1},
"encoding": {
"x": {"field": "measured", "type": "quantitative", "scale": {"domain": [31, 160], "nice": false, "zero": false}, "axis": {"title": "measured ear length (mm)", "values": [60, 90, 120, 150], "format": "d"}},
"y": {"field": "predicted", "type": "quantitative", "scale": {"domain": [31, 160], "nice": false, "zero": false}, "axis": {"title": "predicted ear length (mm)", "values": [60, 90, 120, 150], "format": "d"}},
"color": {"field": "group", "type": "nominal", "scale": {"domain": ["r","o","y","g","c","b","v","m","p"], "range": ["#F8766D","#D89000","#A3A500","#00BA38","#00BFC4","#00B0F6","#9590FF","#E76BF3","#FF62BC"]}, "legend": null}}}
]},
{"width": 184, "height": 183.5, "title": {"text": "H", "dx": -33, "offset": -1.6},
"layer": [
{"data": {"name": "notes"}, "transform": [{"filter": "datum.panel == 'H'"}], "mark": {"type": "rule", "color": "#000000", "strokeWidth": 0.9}, "encoding": {"x": {"datum": 30.3}, "y": {"datum": 30.3}, "x2": {"datum": 160}, "y2": {"datum": 160}}},
{"data": {"name": "notes"}, "transform": [{"filter": "datum.panel == 'H'"}], "mark": {"type": "text", "align": "left", "baseline": "top", "lineBreak": "\n", "fontSize": 9.2, "lineHeight": 10.3, "color": "#000000"}, "encoding": {"x": {"datum": 42.7}, "y": {"datum": 150.4}, "text": {"field": "label"}}},
{"data": {"name": "points"}, "transform": [{"filter": "datum.panel == 'H'"}], "mark": {"type": "circle", "size": 17, "opacity": 1},
"encoding": {
"x": {"field": "measured", "type": "quantitative", "scale": {"domain": [30.3, 160], "nice": false, "zero": false}, "axis": {"title": "measured ear length (mm)", "values": [60, 90, 120, 150], "format": "d"}},
"y": {"field": "predicted", "type": "quantitative", "scale": {"domain": [30.3, 160], "nice": false, "zero": false}, "axis": {"title": "predicted ear length (mm)", "values": [60, 90, 120, 150], "format": "d"}},
"color": {"field": "group", "type": "nominal", "scale": {"domain": ["r","o","y","g","c","b","v","m","p"], "range": ["#F8766D","#D89000","#A3A500","#00BA38","#00BFC4","#00B0F6","#9590FF","#E76BF3","#FF62BC"]}, "legend": null}}}
]}
]
}
